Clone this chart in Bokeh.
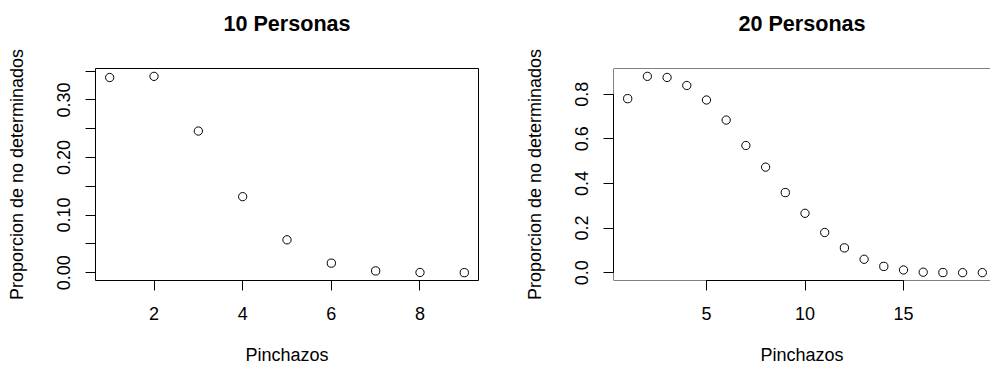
import numpy as np
from bokeh.plotting import figure
from bokeh.layouts import row
from bokeh.models import FixedTicker, Span, NumeralTickFormatter, Range1d, Title
from bokeh.embed import file_html
from bokeh.resources import INLINE

# ---- data ----
pinchazos_10 = [1, 2, 3, 4, 5, 6, 7, 8, 9]
prop_10 = [0.339, 0.341, 0.246, 0.132, 0.057, 0.0165, 0.003, 0.0003, 0.0]

pinchazos_20 = list(range(1, 20))
prop_20 = [0.780, 0.880, 0.875, 0.839, 0.774, 0.684, 0.570, 0.473, 0.359, 0.266,
           0.180, 0.111, 0.060, 0.028, 0.012, 0.002, 0.0005, 0.0, 0.0]

titles = ["10 Personas", "20 Personas"]
x_label = "Pinchazos"
y_label = "Proporcion de no determinados"

x_ticks_10 = [2, 4, 6, 8]
y_major_10 = [0.0, 0.1, 0.2, 0.3]
y_minor_10 = [0.05, 0.15, 0.25, 0.35]
x_ticks_20 = [5, 10, 15]
y_major_20 = [0.0, 0.2, 0.4, 0.6, 0.8]

FONT = "Liberation Sans"
TOP, BOTTOM, H = 68, 87, 367


def r_range(v):
    lo, hi = min(v), max(v)
    d = (hi - lo) * 0.04
    return lo - d, hi + d


def style_axis(ax, ticks, minor, bounds, fmt, vertical=False):
    ax.ticker = FixedTicker(ticks=ticks, minor_ticks=minor)
    ax.bounds = bounds
    ax.formatter = NumeralTickFormatter(format=fmt)
    ax.axis_line_color = "black"
    ax.axis_line_width = 1
    ax.major_tick_line_color = "black"
    ax.minor_tick_line_color = "black"
    ax.major_tick_in = 0
    ax.major_tick_out = 10
    ax.minor_tick_in = 0
    ax.minor_tick_out = 10
    ax.major_label_text_font = FONT
    ax.major_label_text_font_size = "18px"
    ax.major_label_text_color = "black"
    ax.axis_label_text_font = FONT
    ax.axis_label_text_font_size = "18px"
    ax.axis_label_text_font_style = "normal"
    ax.axis_label_text_color = "black"
    if vertical:
        ax.major_label_orientation = "vertical"


def make_panel(xs, ys, title, x_ticks, y_major, y_minor, xfmt, yfmt,
               border_left, border_right, frame_w_full, clip_right):
    x0, x1 = r_range(xs)
    y0, y1 = r_range(ys)
    frame_w = 495 - border_left - border_right
    if clip_right:
        x1 = x0 + (x1 - x0) * frame_w / frame_w_full
    p = figure(width=495, height=H, output_backend="svg", toolbar_location=None,
               x_range=Range1d(x0, x1), y_range=Range1d(y0, y1),
               min_border_left=border_left, min_border_right=border_right,
               min_border_top=TOP, min_border_bottom=BOTTOM)
    p.xgrid.visible = False
    p.ygrid.visible = False
    p.background_fill_color = "white"
    p.border_fill_color = "white"
    if clip_right:
        p.outline_line_color = None
        for loc, dim in [(y1, "width"), (y0, "width"), (x0, "height")]:
            p.add_layout(Span(location=loc, dimension=dim, line_color="black", line_width=1))
    else:
        p.outline_line_color = "black"
        p.outline_line_alpha = 1
        p.outline_line_width = 1

    p.scatter(xs, ys, size=8.3, marker="circle", fill_color=None,
              line_color="black", line_width=1)

    style_axis(p.xaxis[0], x_ticks, [], (x_ticks[0], x_ticks[-1]), xfmt)
    style_axis(p.yaxis[0], y_major, y_minor,
               (min(y_major + y_minor), max(y_major + y_minor)), yfmt, vertical=True)
    p.xaxis.axis_label = x_label
    p.yaxis.axis_label = y_label
    p.xaxis.major_label_standoff = 16
    p.yaxis.major_label_standoff = 15
    p.xaxis.axis_label_standoff = 22
    p.yaxis.axis_label_standoff = 28

    # spacer between frame and title, then the title itself (outer margin in R)
    p.title.text = ""
    p.title.standoff = 0
    p.add_layout(Title(text=" ", text_font_size="28px", standoff=0), "above")
    t = Title(text=title, align="center", text_font=FONT, text_font_size="21.6px",
              text_font_style="bold", text_color="black", standoff=0)
    p.add_layout(t, "above")
    return p


p1 = make_panel(pinchazos_10, prop_10, titles[0], x_ticks_10, y_major_10, y_minor_10,
                "0", "0.00", 95, 17, 383, False)
p2 = make_panel(pinchazos_20, prop_20, titles[1], x_ticks_20, y_major_20, [],
                "0", "0.0", 118, 0, 383, True)

layout = row(p1, p2, spacing=0)
open("out.html", "w").write(file_html(layout, INLINE))
